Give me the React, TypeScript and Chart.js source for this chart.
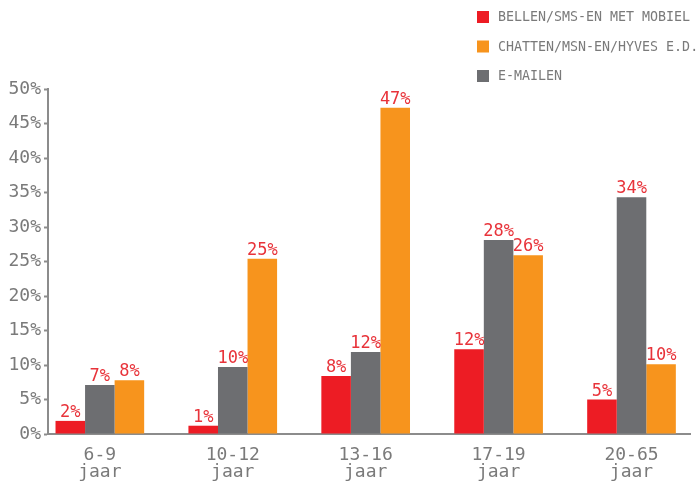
import React, { useEffect, useRef } from "react";
import { Chart, registerables } from "chart.js";

Chart.register(...registerables);

const categories = ["6-9", "10-12", "13-16", "17-19", "20-65"];
const unitLabel = "jaar";
const seriesNames = ["BELLEN/SMS-EN MET MOBIEL", "E-MAILEN", "CHATTEN/MSN-EN/HYVES E.D."];
const bellenValues = [1.9, 1.2, 8.4, 12.3, 5.0];
const emailValues = [7.1, 9.7, 11.9, 28.1, 34.3];
const chattenValues = [7.8, 25.4, 47.3, 25.9, 10.1];
const yTicks = [0, 5, 10, 15, 20, 25, 30, 35, 40, 45, 50];
const legendOrder = [0, 2, 1];

const RED = "#ed1c24";
const ORANGE = "#f7941d";
const GRAY = "#6d6e71";
const TEXT = "#7a7a7a";
const FONT = "'DejaVu Sans Mono', monospace";

export default function App() {
  const ref = useRef<HTMLCanvasElement | null>(null);
  useEffect(() => {
    if (!ref.current) return;
    const colors = [RED, GRAY, ORANGE];
    const allValues = [bellenValues, emailValues, chattenValues];

    const labelPlugin = {
      id: "valueLabels",
      afterDatasetsDraw(chart: any) {
        const ctx = chart.ctx;
        ctx.save();
        ctx.font = `17px ${FONT}`;
        ctx.fillStyle = "#e8333a";
        ctx.textAlign = "center";
        ctx.textBaseline = "alphabetic";
        chart.data.datasets.forEach((ds: any, di: number) => {
          const meta = chart.getDatasetMeta(di);
          meta.data.forEach((el: any, i: number) => {
            const v = ds.data[i].y;
            ctx.fillText(Math.round(v) + "%", el.x, el.y - 4);
          });
        });
        ctx.restore();
      },
    };

    const legendPlugin = {
      id: "customLegend",
      afterDraw(chart: any) {
        const ctx = chart.ctx;
        ctx.save();
        ctx.font = `13.3px ${FONT}`;
        ctx.textBaseline = "middle";
        ctx.textAlign = "left";
        legendOrder.forEach((di, row) => {
          const y = 17 + row * 29.5;
          ctx.fillStyle = colors[di];
          ctx.fillRect(477, y - 6, 12, 12);
          ctx.fillStyle = TEXT;
          ctx.fillText(seriesNames[di], 498, y + 1);
        });
        ctx.restore();
      },
    };

    const chart = new Chart(ref.current, {
      type: "bar",
      data: {
        datasets: allValues.map((vals, di) => ({
          label: seriesNames[di],
          data: vals.map((v, i) => ({ x: i, y: v })),
          backgroundColor: colors[di],
          borderWidth: 0,
          categoryPercentage: 0.667,
          barPercentage: 1,
        })),
      },
      options: {
        animation: false,
        responsive: false,
        maintainAspectRatio: false,
        layout: { padding: { top: 89, right: 6, left: 0, bottom: 0 } },
        plugins: { legend: { display: false }, tooltip: { enabled: false } },
        scales: {
          x: {
            type: "linear",
            offset: false,
            min: -0.39,
            max: 4.44,
            afterBuildTicks(scale: any) {
              scale.ticks = categories.map((_, i) => ({ value: i }));
            },
            afterFit(scale: any) {
              scale.height = 47;
            },
            grid: { display: false, offset: false },
            border: { display: true, color: "#8c8c8c", width: 2 },
            ticks: {
              autoSkip: false,
              maxRotation: 0,
              padding: 5,
              color: TEXT,
              font: { family: FONT, size: 18, lineHeight: 0.92 },
              callback: (v: any) => [categories[v as number], unitLabel],
            },
          },
          y: {
            min: 0,
            max: 50,
            afterBuildTicks(scale: any) {
              scale.ticks = yTicks.map((v) => ({ value: v }));
            },
            afterFit(scale: any) {
              scale.width = 48;
            },
            grid: {
              drawOnChartArea: false,
              drawTicks: true,
              tickLength: 4,
              tickColor: "#8c8c8c",
              tickWidth: 2,
            },
            border: { display: true, color: "#8c8c8c", width: 2 },
            ticks: {
              padding: 3,
              color: TEXT,
              font: { family: FONT, size: 18 },
              callback: (v: any) => v + "%",
            },
          },
        },
      },
      plugins: [labelPlugin, legendPlugin],
    } as any);
    return () => chart.destroy();
  }, []);
  return (
    <div style={{ position: "absolute", left: 0, top: 0, width: 696, height: 481 }}>
      <canvas ref={ref} width={696} height={481} style={{ width: 696, height: 481 }} />
    </div>
  );
}
